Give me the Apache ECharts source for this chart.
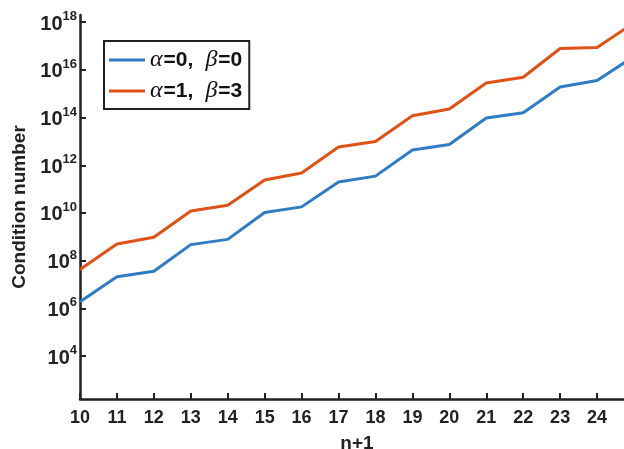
<!DOCTYPE html>
<html>
<head>
<meta charset="utf-8">
<script src="https://cdn.jsdelivr.net/npm/echarts@6/dist/echarts.min.js"></script>
<style>html,body{margin:0;padding:0;background:#fff;}#c{width:624px;height:449px;}</style>
</head>
<body>
<div id="c"></div>
<script>
var nValues = [10,11,12,13,14,15,16,17,18,19,20,21,22,23,24,25];
var seriesA = [1.9e6,2.1e7,3.6e7,4.7e8,7.8e8,1.05e10,1.8e10,2.0e11,3.5e11,4.4e12,7.4e12,9.5e13,1.6e14,1.9e15,3.6e15,3.7e16];
var seriesB = [4.3e7,5.0e8,9.5e8,1.2e10,2.1e10,2.4e11,4.7e11,5.8e12,1.0e13,1.2e14,2.3e14,2.8e15,4.9e15,7.9e16,8.7e16,9.3e17];
var yTickValues = [1e4,1e6,1e8,1e10,1e12,1e14,1e16,1e18];
var xTickValues = [10,11,12,13,14,15,16,17,18,19,20,21,22,23,24,25];
var nameA = 'α=0, β=0';
var nameB = 'α=1, β=3';

var FONT = '"Liberation Sans", Arial, Helvetica, sans-serif';
var chart = echarts.init(document.getElementById('c'), null, {renderer:'canvas'});
function pairs(ys){ return nValues.map(function(n,i){ return [n, ys[i]]; }); }
function legendFmt(name){
  var m = name.match(/α=(\d), β=(\d)/);
  return '{g|α}{t|=' + m[1] + ',}{g2|β}{t|=' + m[2] + '}';
}
chart.setOption({
  animation:false,
  backgroundColor:'#fff',
  grid:{left:80, right:-10, top:15, bottom:50, containLabel:false, outerBoundsMode:'none'},
  legend:{
    left:104, top:41, orient:'vertical',
    padding:[7,7,6,5], itemGap:7,
    borderColor:'#222', borderWidth:2, backgroundColor:'#fff',
    icon:'rect', itemWidth:36, itemHeight:3,
    formatter: legendFmt,
    textStyle:{
      color:'#111', fontFamily:FONT, fontSize:21, fontWeight:'bold', lineHeight:23,
      rich:{
        g:{fontFamily:'"Liberation Serif","DejaVu Serif",serif', fontStyle:'italic', fontSize:24, fontWeight:'normal', color:'#111', padding:[0,1,0,0]},
        g2:{fontFamily:'"Liberation Serif","DejaVu Serif",serif', fontStyle:'italic', fontSize:24, fontWeight:'normal', color:'#111', padding:[0,1,0,12]},
        t:{fontFamily:FONT, fontSize:21, fontWeight:'bold', color:'#111'}
      }
    },
    data:[nameA, nameB]
  },
  xAxis:{
    type:'value', min:10, max:25, interval:1,
    name:'n+1', nameLocation:'middle', nameGap:35,
    nameTextStyle:{fontFamily:FONT, fontSize:19, fontWeight:'bold', color:'#222'},
    axisLine:{onZero:false, lineStyle:{color:'#222', width:2.5}},
    axisTick:{inside:true, length:6, lineStyle:{color:'#222', width:2}, customValues:xTickValues},
    axisLabel:{margin:10, fontFamily:FONT, fontSize:18, fontWeight:'bold', color:'#222', customValues:xTickValues},
    splitLine:{show:false}
  },
  yAxis:{
    type:'log', logBase:10, min:Math.pow(10,2.2), max:Math.pow(10,18.3),
    name:'Condition number', nameLocation:'middle', nameGap:44,
    nameTextStyle:{fontFamily:FONT, fontSize:19, fontWeight:'bold', color:'#222'},
    axisLine:{show:true, lineStyle:{color:'#222', width:2.5}},
    axisTick:{show:true, inside:true, length:6, lineStyle:{color:'#222', width:2}, customValues:yTickValues},
    axisLabel:{
      margin:3, customValues:yTickValues,
      formatter:function(v){ return '{b|10}{s|' + Math.round(Math.log10(v)) + '}'; },
      rich:{
        b:{fontFamily:FONT, fontSize:20, fontWeight:'bold', color:'#222', verticalAlign:'bottom'},
        s:{fontFamily:FONT, fontSize:13, fontWeight:'bold', color:'#222', verticalAlign:'top', padding:[0,0,11,0]}
      }
    },
    splitLine:{show:false}
  },
  series:[
    {name:nameA, type:'line', data:pairs(seriesA), symbol:'none', color:'#2F7BC4', lineStyle:{width:3, color:'#2F7BC4'}},
    {name:nameB, type:'line', data:pairs(seriesB), symbol:'none', color:'#DE5216', lineStyle:{width:3, color:'#DE5216'}}
  ]
});
</script>
</body>
</html>
